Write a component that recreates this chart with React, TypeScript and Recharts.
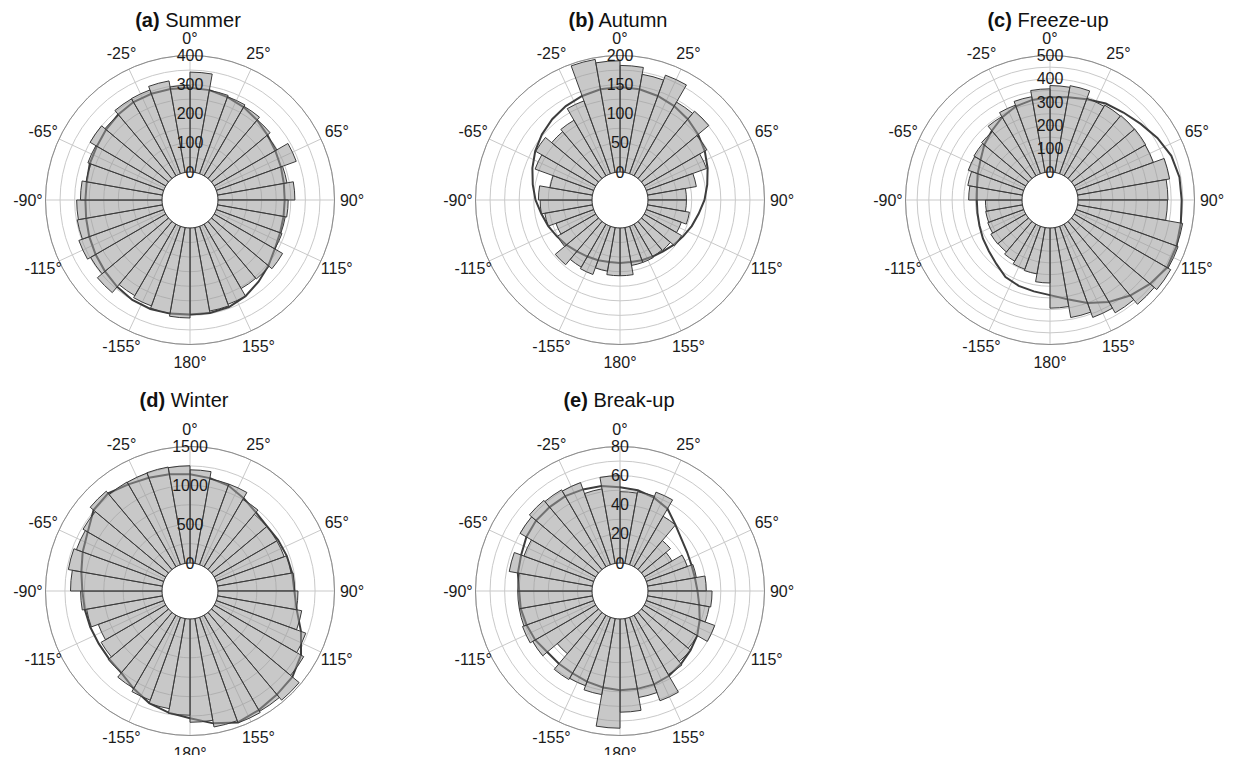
import React from 'react';
import {
  RadialBarChart,
  RadialBar,
  Radar,
  PolarGrid,
  PolarAngleAxis,
  PolarRadiusAxis,
} from 'recharts';

// direction bins (start of each 10° bin, clockwise from north)
const BINS = [
  0, 10, 20, 30, 40, 50, 60, 70, 80, 90, 100, 110, 120, 130, 140, 150, 160, 170,
  180, 190, 200, 210, 220, 230, 240, 250, 260, 270, 280, 290, 300, 310, 320, 330, 340, 350,
];
// labelled spokes, degrees clockwise from north (360 is the 0° spoke)
const SPOKES = [25, 65, 90, 115, 155, 180, 205, 245, 270, 295, 335, 360];

// *_COUNTS: bar height of each bin; *_FIT: fitted ellipse radius read at the end angle of each bin (10°..360°)
const SUMMER_COUNTS = [
  343, 286, 281, 275, 263, 248, 292, 242, 264, 241, 236, 240, 271, 258, 255, 285, 291, 297,
  309, 299, 291, 283, 319, 298, 310, 297, 293, 280, 266, 277, 300, 285, 305, 306, 319, 298,
];
const SUMMER_FIT = [
  287, 280, 272, 262, 251, 242, 236, 231, 229, 230, 233, 240, 255, 270, 285, 295, 298, 297,
  300, 302, 300, 293, 285, 278, 272, 266, 263, 264, 270, 273, 280, 287, 292, 292, 291, 289,
];
const SUMMER_RINGS = [0, 50, 100, 150, 200, 250, 300, 350, 400];
const SUMMER_LABELS = [0, 100, 200, 300, 400];

const AUTUMN_COUNTS = [
  183, 171, 180, 146, 151, 124, 110, 85, 66, 66, 73, 64, 74, 65, 64, 66, 66, 82,
  82, 76, 88, 85, 97, 76, 69, 83, 89, 92, 74, 107, 119, 105, 110, 133, 197, 191,
];
const AUTUMN_FIT = [
  145, 142, 138, 133, 127, 120, 112, 104, 97, 89, 83, 77, 72, 67, 64, 62, 60, 60,
  60, 62, 64, 67, 72, 77, 83, 89, 97, 104, 112, 120, 127, 133, 138, 142, 145, 146,
];
const AUTUMN_RINGS = [0, 25, 50, 75, 100, 125, 150, 175, 200];
const AUTUMN_LABELS = [0, 50, 100, 150, 200];

const FREEZE_COUNTS = [
  371, 378, 344, 350, 353, 354, 352, 401, 386, 384, 458, 465, 478, 464, 439, 416, 392, 344,
  236, 202, 196, 183, 171, 173, 164, 160, 157, 229, 238, 253, 257, 263, 293, 313, 330, 357,
];
const FREEZE_FIT = [
  328, 340, 358, 370, 388, 412, 434, 444, 445, 450, 458, 460, 440, 415, 385, 350, 312, 288,
  278, 272, 262, 238, 222, 212, 202, 196, 194, 198, 210, 224, 248, 268, 290, 308, 316, 321,
];
const FREEZE_RINGS = [0, 50, 100, 150, 200, 250, 300, 350, 400, 450, 500];
const FREEZE_LABELS = [0, 100, 200, 300, 400, 500];

const WINTER_COUNTS = [
  1200, 1104, 1104, 1000, 930, 930, 930, 961, 987, 1030, 1100, 1226, 1330, 1474, 1430, 1447, 1417, 1330,
  1239, 1178, 1135, 1087, 1013, 961, 896, 991, 1048, 1178, 1230, 1196, 1230, 1317, 1260, 1256, 1260, 1252,
];
const WINTER_FIT = [
  1115, 1085, 1020, 960, 935, 950, 965, 975, 983, 1035, 1160, 1290, 1360, 1380, 1410, 1440, 1370, 1278,
  1230, 1175, 1090, 1015, 1000, 996, 1005, 1015, 1026, 1060, 1110, 1160, 1260, 1280, 1225, 1190, 1165, 1143,
];
const WINTER_RINGS = [0, 250, 500, 750, 1000, 1250, 1500];
const WINTER_LABELS = [0, 500, 1000, 1500];

const BREAKUP_COUNTS = [
  49, 50, 53, 40, 26, 22, 30, 34, 40, 44, 43, 50, 42, 44, 47, 61, 55, 64,
  75, 53, 50, 51, 37, 50, 52, 51, 51, 51, 58, 51, 60, 62, 61, 60, 52, 60,
];
const BREAKUP_FIT = [
  51, 49, 46, 40, 36, 34, 33, 33, 34, 36, 39, 42, 44, 46, 48, 49, 49, 49,
  48, 47, 46, 46, 46, 48, 49, 50, 50, 52, 53, 55, 56, 56, 56, 55, 54, 52,
];
const BREAKUP_RINGS = [0, 10, 20, 30, 40, 50, 60, 70, 80];
const BREAKUP_LABELS = [0, 20, 40, 60, 80];

const FONT = '"Liberation Sans", Arial, Helvetica, sans-serif';

interface PanelProps {
  tag: string;
  name: string;
  counts: number[];
  fit: number[];
  rings: number[];
  labels: number[];
  cx: number;
  cy: number;
  titleX: number;
  titleY: number;
}

const PANELS: PanelProps[] = [
  { tag: '(a)', name: 'Summer', counts: SUMMER_COUNTS, fit: SUMMER_FIT, rings: SUMMER_RINGS, labels: SUMMER_LABELS, cx: 190, cy: 200, titleX: 188, titleY: 20 },
  { tag: '(b)', name: 'Autumn', counts: AUTUMN_COUNTS, fit: AUTUMN_FIT, rings: AUTUMN_RINGS, labels: AUTUMN_LABELS, cx: 620, cy: 200, titleX: 618, titleY: 20 },
  { tag: '(c)', name: 'Freeze-up', counts: FREEZE_COUNTS, fit: FREEZE_FIT, rings: FREEZE_RINGS, labels: FREEZE_LABELS, cx: 1050, cy: 200, titleX: 1048, titleY: 20 },
  { tag: '(d)', name: 'Winter', counts: WINTER_COUNTS, fit: WINTER_FIT, rings: WINTER_RINGS, labels: WINTER_LABELS, cx: 190, cy: 591, titleX: 184, titleY: 400 },
  { tag: '(e)', name: 'Break-up', counts: BREAKUP_COUNTS, fit: BREAKUP_FIT, rings: BREAKUP_RINGS, labels: BREAKUP_LABELS, cx: 620, cy: 591, titleX: 619, titleY: 400 },
];

const W = 430;
const H = 370;
const CY = 185;

function AngleTick(props: any) {
  const { x, y, payload } = props;
  const raw = payload.value % 360;
  const v = raw > 180 ? raw - 360 : raw;
  return (
    <text x={x} y={y} textAnchor="middle" dominantBaseline="central" fontSize={16} fontFamily={FONT} fill="#1a1a1a">
      {`${v}°`}
    </text>
  );
}

const radiusTick = (labels: number[]) => (props: any) => {
  const { x, y, payload } = props;
  if (!labels.includes(payload.value)) return <g />;
  return (
    <text x={x} y={y} textAnchor="middle" dominantBaseline="central" fontSize={16} fontFamily={FONT} fill="#1a1a1a">
      {payload.value}
    </text>
  );
};

function Panel({ tag, name, counts, fit, rings, labels, cx, cy, titleX, titleY }: PanelProps) {
  // binEnd keeps the compass axis data inside its [10, 370] domain
  const data = BINS.map((bin, i) => ({ bin, binEnd: bin + 10, count: counts[i], fit: fit[i] }));
  const max = rings[rings.length - 1];
  return (
    <>
      <div
        style={{
          position: 'absolute',
          left: titleX - 150,
          top: titleY - 12,
          width: 300,
          textAlign: 'center',
          fontSize: 20,
          lineHeight: '24px',
          color: '#111',
          fontFamily: FONT,
        }}
      >
        <b>{tag}</b> {name}
      </div>
      <div style={{ position: 'absolute', left: cx - W / 2, top: cy - CY }}>
        {/* bands are drawn one step counter-clockwise of their start angle, so the circle starts at 80°;
            the compass axis domain is shifted by the same 10° */}
        <RadialBarChart
          width={W}
          height={H}
          cx={W / 2}
          cy={CY}
          innerRadius={28}
          outerRadius={144.5}
          startAngle={80}
          endAngle={-280}
          layout="centric"
          data={data}
          barCategoryGap={0}
          margin={{ top: 0, right: 0, bottom: 0, left: 0 }}
        >
          <PolarGrid gridType="circle" angleAxisId="deg" radiusAxisId={0} stroke="#c9c9c9" strokeWidth={1} />
          <PolarAngleAxis angleAxisId={0} type="category" dataKey="bin" tick={false} tickLine={false} axisLine={false} />
          <PolarAngleAxis
            angleAxisId="deg"
            dataKey="binEnd"
            type="number"
            scale="linear"
            domain={[10, 370]}
            allowDataOverflow
            ticks={SPOKES}
            tickLine={false}
            tickSize={17.5}
            tick={AngleTick}
            axisLine={{ stroke: '#8c8c8c', strokeWidth: 1 }}
            axisLineType="circle"
          />
          <RadialBar dataKey="count" fill="#9a9a9a" fillOpacity={0.55} stroke="#3a3a3a" strokeWidth={1} isAnimationActive={false} />
          <Radar dataKey="fit" fill="none" stroke="#3d3d3d" strokeWidth={2} dot={false} isAnimationActive={false} />
          <PolarRadiusAxis
            radiusAxisId={0}
            type="number"
            domain={[0, max]}
            ticks={rings}
            angle={90}
            axisLine={false}
            tickLine={false}
            tick={radiusTick(labels)}
          />
        </RadialBarChart>
      </div>
    </>
  );
}

export default function App() {
  return (
    <div
      style={{
        position: 'relative',
        width: 1238,
        height: 763,
        margin: -8,
        overflow: 'hidden',
        background: '#fff',
        fontFamily: FONT,
      }}
    >
      {PANELS.map((p) => (
        <Panel key={p.tag} {...p} />
      ))}
    </div>
  );
}
